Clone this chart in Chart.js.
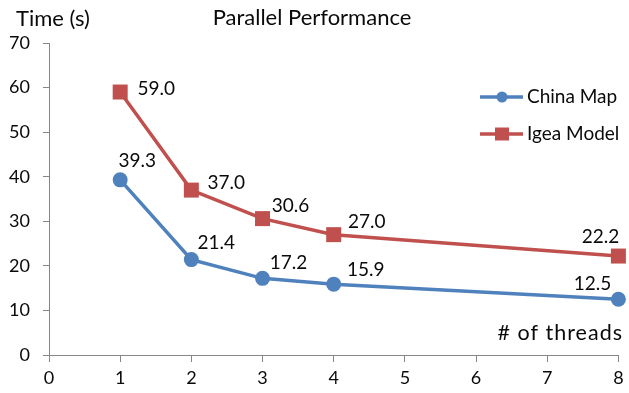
<!DOCTYPE html>
<html>
<head>
<meta charset="utf-8">
<script src="https://cdn.jsdelivr.net/npm/chart.js@4/dist/chart.umd.min.js"></script>
<style>
  html, body { margin: 0; padding: 0; background: #fff; }
  #wrap { width: 629px; height: 393px; }
</style>
</head>
<body>
<div id="wrap"><canvas id="c" width="629" height="393"></canvas></div>
<script>
// Thread counts and run times (seconds)
const threads = [1, 2, 3, 4, 8];
const chinaMap = [39.3, 21.4, 17.2, 15.9, 12.5];
const igeaModel = [59.0, 37.0, 30.6, 27.0, 22.2];
const seriesNames = ['China Map', 'Igea Model'];
const chartTitle = 'Parallel Performance';
const yAxisTitle = 'Time (s)';
const xAxisTitle = '# of threads';

const FONT = 'Lato, "Open Sans", sans-serif';
const BLUE = '#4F81BD';
const RED = '#C0504D';
const AXIS = '#868686';
const INK = '#0a0a0a';

// where each value label sits relative to its point
const labelOffsets = [
  [[17, -19], [25, -17], [26, -15], [32, -14], [-26, -15]],
  [[36, -3], [35, -7], [28, -13], [33, -13], [-18, -19]]
];

const toPoints = (ys) => threads.map((t, i) => ({ x: t, y: ys[i] }));

const decorations = {
  id: 'decorations',
  afterDatasetsDraw(chart) {
    const ctx = chart.ctx;
    ctx.save();
    ctx.fillStyle = INK;
    ctx.textBaseline = 'middle';

    // value labels
    ctx.font = '19px ' + FONT;
    ctx.textAlign = 'center';
    chart.data.datasets.forEach((ds, di) => {
      const meta = chart.getDatasetMeta(di);
      meta.data.forEach((pt, i) => {
        const off = labelOffsets[di][i];
        ctx.fillText(ds.data[i].y.toFixed(1), pt.x + off[0], pt.y + off[1]);
      });
    });

    // titles
    ctx.font = '22px ' + FONT;
    ctx.textAlign = 'center';
    ctx.fillText(chartTitle, 312, 18);
    ctx.textAlign = 'left';
    ctx.fillText(yAxisTitle, 16, 19);
    ctx.font = '21.5px ' + FONT;
    ctx.letterSpacing = '1px';
    ctx.textAlign = 'right';
    ctx.fillText(xAxisTitle, 623, 333);
    ctx.letterSpacing = '0px';

    // legend
    const rows = [
      { y: 97, color: BLUE, shape: 'circle', text: seriesNames[0] },
      { y: 134, color: RED, shape: 'square', text: seriesNames[1] }
    ];
    rows.forEach(r => {
      ctx.strokeStyle = r.color;
      ctx.fillStyle = r.color;
      ctx.lineWidth = 3.5;
      ctx.beginPath();
      ctx.moveTo(480, r.y);
      ctx.lineTo(523, r.y);
      ctx.stroke();
      if (r.shape === 'circle') {
        ctx.beginPath();
        ctx.arc(502, r.y, 5.5, 0, Math.PI * 2);
        ctx.fill();
      } else {
        ctx.fillRect(495, r.y - 6.5, 14, 13);
      }
      ctx.fillStyle = INK;
      ctx.textAlign = 'left';
      ctx.font = '19px ' + FONT;
      ctx.fillText(r.text, 527, r.y);
    });
    ctx.restore();
  }
};

new Chart(document.getElementById('c'), {
  type: 'line',
  data: {
    datasets: [
      {
        label: seriesNames[0],
        data: toPoints(chinaMap),
        borderColor: BLUE,
        backgroundColor: BLUE,
        borderWidth: 3.5,
        pointStyle: 'circle',
        pointRadius: 7.5,
        pointHoverRadius: 7.5,
        pointBorderWidth: 0,
        clip: false
      },
      {
        label: seriesNames[1],
        data: toPoints(igeaModel),
        borderColor: RED,
        backgroundColor: RED,
        borderWidth: 3.5,
        pointStyle: 'rect',
        pointRadius: 10.6,
        pointHoverRadius: 10.6,
        pointBorderWidth: 0,
        clip: false
      }
    ]
  },
  options: {
    responsive: false,
    animation: false,
    layout: { padding: { left: 0, top: 43, right: 7, bottom: 0 } },
    plugins: {
      legend: { display: false },
      title: { display: false },
      tooltip: { enabled: false }
    },
    scales: {
      x: {
        type: 'linear',
        min: 0,
        max: 8,
        afterFit(scale) { scale.height = 38; },
        grid: { drawOnChartArea: false, drawTicks: true, tickLength: 7, color: AXIS },
        border: { display: true, color: AXIS, width: 1 },
        ticks: { stepSize: 1, color: INK, font: { family: FONT, size: 18 }, padding: 5 }
      },
      y: {
        type: 'linear',
        min: 0,
        max: 70,
        afterFit(scale) { scale.width = 49; },
        grid: { drawOnChartArea: false, drawTicks: true, tickLength: 6, color: AXIS },
        border: { display: true, color: AXIS, width: 1 },
        ticks: { stepSize: 10, color: INK, font: { family: FONT, size: 18 }, padding: 13 }
      }
    }
  },
  plugins: [decorations]
});
</script>
</body>
</html>
